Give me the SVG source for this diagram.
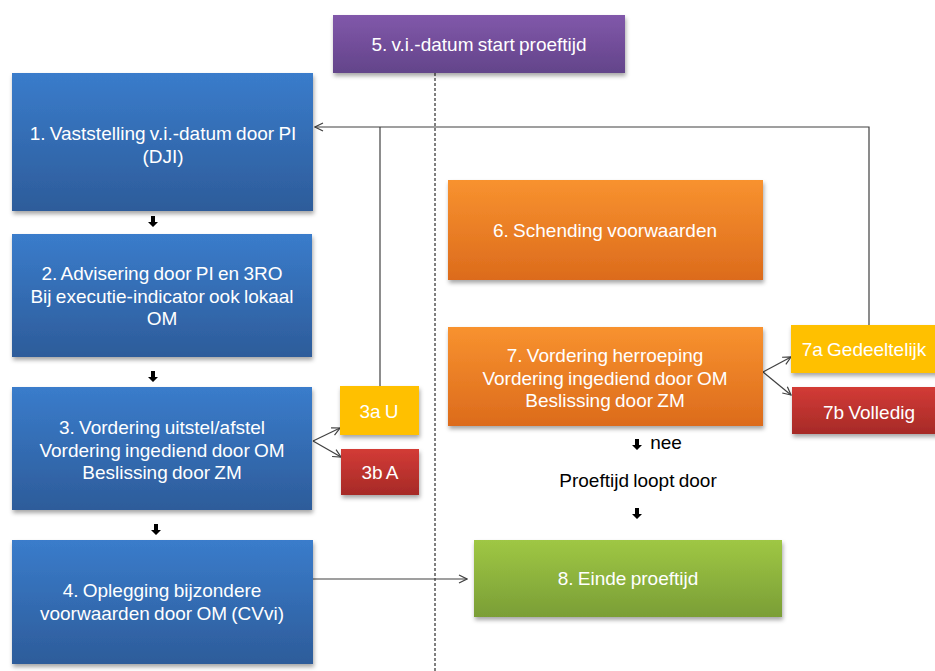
<svg xmlns="http://www.w3.org/2000/svg" width="935" height="671" viewBox="0 0 935 671">
<defs>
<linearGradient id="gBlue" x1="0" y1="0" x2="0" y2="1"><stop offset="0" stop-color="#3A7CCB"/><stop offset="1" stop-color="#2D5C9A"/></linearGradient>
<linearGradient id="gPurple" x1="0" y1="0" x2="0" y2="1"><stop offset="0" stop-color="#8158AA"/><stop offset="1" stop-color="#63448A"/></linearGradient>
<linearGradient id="gOrange" x1="0" y1="0" x2="0" y2="1"><stop offset="0" stop-color="#F8922F"/><stop offset="1" stop-color="#DC6B1C"/></linearGradient>
<linearGradient id="gGreen" x1="0" y1="0" x2="0" y2="1"><stop offset="0" stop-color="#9FC744"/><stop offset="1" stop-color="#7A9E36"/></linearGradient>
<linearGradient id="gRed" x1="0" y1="0" x2="0" y2="1"><stop offset="0" stop-color="#D33B36"/><stop offset="1" stop-color="#A62A27"/></linearGradient>
<filter id="sh" x="-10%" y="-10%" width="125%" height="130%"><feDropShadow dx="1" dy="3" stdDeviation="2" flood-color="#000" flood-opacity="0.35"/></filter>
<marker id="open" viewBox="0 0 10 10" refX="9" refY="5" markerWidth="10" markerHeight="10" markerUnits="userSpaceOnUse" orient="auto"><polyline points="1,1 9,5 1,9" fill="none" stroke="#404040" stroke-width="1.2"/></marker>
<path id="dn" d="M-2,-6 H2 V0 H5 L0,5 L-5,0 H-2 Z"/>
</defs>
<style>
.t{font-family:"Liberation Sans",Arial,sans-serif;font-size:19px;fill:#fff;text-anchor:middle;word-spacing:-1px;}
.k{font-family:"Liberation Sans",Arial,sans-serif;font-size:19px;fill:#000;text-anchor:middle;word-spacing:-1px;}
.c{fill:none;stroke:#404040;stroke-width:1.2;}
</style>
<rect width="935" height="671" fill="#fff"/>

<g id="connectors">
<line x1="435" y1="73" x2="435" y2="671" stroke="#000" stroke-width="1" stroke-dasharray="3,2"/>
<polyline class="c" points="869,325 869,127 315,127" marker-end="url(#open)"/>
<line class="c" x1="380" y1="127" x2="380" y2="386"/>
<line class="c" x1="313" y1="441" x2="340" y2="428" marker-end="url(#open)"/>
<line class="c" x1="313" y1="441" x2="341" y2="457" marker-end="url(#open)"/>
<line class="c" x1="763" y1="372" x2="791" y2="357" marker-end="url(#open)"/>
<line class="c" x1="763" y1="372" x2="791" y2="395" marker-end="url(#open)"/>
<line class="c" x1="313" y1="579" x2="467" y2="579" marker-end="url(#open)"/>
<use href="#dn" x="153" y="222"/>
<use href="#dn" x="153" y="377"/>
<use href="#dn" x="156" y="530"/>
<use href="#dn" x="637" y="445"/>
<use href="#dn" x="637" y="514"/>
</g>

<g id="n5"><rect x="333" y="15" width="292" height="58" fill="url(#gPurple)" filter="url(#sh)"/><text class="t" x="479" y="51">5. v.i.-datum start proeftijd</text></g>
<g id="n1"><rect x="12" y="73" width="301" height="138" fill="url(#gBlue)" filter="url(#sh)"/><text class="t" x="163" y="140">1. Vaststelling v.i.-datum door PI</text><text class="t" x="163" y="163">(DJI)</text></g>
<g id="n2"><rect x="12" y="234" width="300" height="123" fill="url(#gBlue)" filter="url(#sh)"/><text class="t" x="162" y="280">2. Advisering door PI en 3RO</text><text class="t" x="162" y="303">Bij executie-indicator ook lokaal</text><text class="t" x="162" y="325">OM</text></g>
<g id="n3"><rect x="12" y="387" width="300" height="123" fill="url(#gBlue)" filter="url(#sh)"/><text class="t" x="162" y="434">3. Vordering uitstel/afstel</text><text class="t" x="162" y="457">Vordering ingediend door OM</text><text class="t" x="162" y="479">Beslissing door ZM</text></g>
<g id="n3a"><rect x="340" y="386" width="79" height="49" fill="#FFC000" filter="url(#sh)"/><text class="t" x="379" y="418">3a U</text></g>
<g id="n3b"><rect x="341" y="449" width="78" height="46" fill="url(#gRed)" filter="url(#sh)"/><text class="t" x="380" y="479">3b A</text></g>
<g id="n4"><rect x="12" y="540" width="301" height="124" fill="url(#gBlue)" filter="url(#sh)"/><text class="t" x="162" y="597">4. Oplegging bijzondere</text><text class="t" x="162" y="620">voorwaarden door OM (CVvi)</text></g>
<g id="n6"><rect x="448" y="180" width="315" height="100" fill="url(#gOrange)" filter="url(#sh)"/><text class="t" x="605" y="237">6. Schending voorwaarden</text></g>
<g id="n7"><rect x="448" y="327" width="315" height="99" fill="url(#gOrange)" filter="url(#sh)"/><text class="t" x="605" y="362">7. Vordering herroeping</text><text class="t" x="605" y="385">Vordering ingediend door OM</text><text class="t" x="605" y="407">Beslissing door ZM</text></g>
<g id="n7a"><rect x="791" y="325" width="160" height="48" fill="#FFC000" filter="url(#sh)"/><text class="t" x="864" y="356">7a Gedeeltelijk</text></g>
<g id="n7b"><rect x="792" y="387" width="160" height="47" fill="url(#gRed)" filter="url(#sh)"/><text class="t" x="869" y="419">7b Volledig</text></g>
<g id="n8"><rect x="474" y="540" width="308" height="77" fill="url(#gGreen)" filter="url(#sh)"/><text class="t" x="628" y="585">8. Einde proeftijd</text></g>
<g id="labels"><text class="k" x="666" y="449">nee</text><text class="k" x="638" y="487">Proeftijd loopt door</text></g>
</svg>
